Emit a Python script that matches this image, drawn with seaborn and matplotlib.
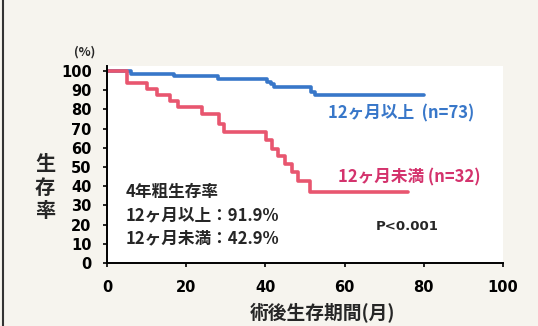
import matplotlib
matplotlib.use("Agg")
import matplotlib.pyplot as plt
from matplotlib.lines import Line2D
import seaborn as sns
import pandas as pd

# Kaplan-Meier survival steps (months, survival %)
long_time = [0, 6, 17, 28, 40.5, 41.3, 42.2, 51.5, 52.5, 80]
long_surv = [100, 98.6, 97.3, 95.9, 94.5, 93.2, 91.8, 89.0, 87.6, 87.6]

short_time = [0, 5, 10, 12.5, 16, 18, 24, 28.3, 29.5, 40.2, 41.6, 43.3, 45.0,
              46.8, 48.3, 51.3, 76]
short_surv = [100, 93.8, 90.6, 87.5, 84.4, 81.3, 77.5, 72.4, 68.0, 64.0, 59.5,
              55.5, 51.5, 47.5, 42.9, 37.1, 37.1]

group_names = ["12ヶ月以上", "12ヶ月未満"]
group_n = [73, 32]
rate_4y = [91.9, 42.9]

x_ticks = [0, 20, 40, 60, 80, 100]
y_ticks = [0, 10, 20, 30, 40, 50, 60, 70, 80, 90, 100]

df = pd.concat([
    pd.DataFrame({"time": long_time, "surv": long_surv, "group": group_names[0]}),
    pd.DataFrame({"time": short_time, "surv": short_surv, "group": group_names[1]}),
], ignore_index=True)

sns.set_theme(style="ticks")
plt.rcParams["font.family"] = ["Noto Sans CJK JP", "DejaVu Sans"]

blue = "#3877c9"
red = "#e8566f"
red_text = "#d4336d"

fig = plt.figure(figsize=(5.38, 3.26), dpi=100)
fig.patch.set_facecolor("#f6f4ee")
ax = fig.add_axes([107 / 538, 1 - 263 / 326, (503 - 107) / 538, (263 - 65.5) / 326])
ax.set_facecolor("white")

sns.lineplot(data=df, x="time", y="surv", hue="group", hue_order=group_names,
             palette=[blue, red], drawstyle="steps-post", estimator=None,
             sort=False, linewidth=2.6, legend=False, ax=ax)

ax.set_xlim(0, 100)
ax.set_ylim(0, 102.9)
ax.set_xticks(x_ticks)
ax.set_yticks(y_ticks)
ax.set_xticklabels([str(v) for v in x_ticks], fontfamily="DejaVu Sans",
                   fontweight="bold", fontsize=10.5)
ax.set_yticklabels([str(v) for v in y_ticks], fontfamily="DejaVu Sans",
                   fontweight="bold", fontsize=10.5)
ax.tick_params(axis="x", length=3, width=1.2, pad=9, colors="black")
ax.tick_params(axis="y", length=3, width=1.2, pad=8, colors="black")
ax.set_xlabel("")
ax.set_ylabel("")
for side in ("top", "right"):
    ax.spines[side].set_visible(False)
for side in ("left", "bottom"):
    ax.spines[side].set_linewidth(1.4)
    ax.spines[side].set_color("black")

# curve labels
ax.text(55.9, 78.1, f"{group_names[0]}  (n={group_n[0]})", color=blue,
        fontsize=12, fontweight="bold", ha="left", va="center")
ax.text(58.4, 44.8, f"{group_names[1]} (n={group_n[1]})", color=red_text,
        fontsize=12, fontweight="bold", ha="left", va="center")

# 4-year crude survival summary
ax.text(4.8, 37, "4年粗生存率", fontsize=12, fontweight="bold", ha="left", va="center")
ax.text(4.8, 25, f"{group_names[0]}：{rate_4y[0]}%", fontsize=12,
        fontweight="bold", ha="left", va="center")
ax.text(4.8, 13, f"{group_names[1]}：{rate_4y[1]}%", fontsize=12,
        fontweight="bold", ha="left", va="center")
ax.text(67.8, 18.8, "P<0.001", fontsize=9.5, fontweight="bold",
        fontfamily="DejaVu Sans", ha="left", va="center")

# axis titles
fig.text(85 / 538, 1 - 52 / 326, "(%)", fontsize=9, fontweight="bold",
         ha="center", va="center")
fig.text(45 / 538, 1 - 187 / 326, "生\n存\n率", fontsize=14.5, fontweight="bold",
         ha="center", va="center", linespacing=1.15)
fig.text(323 / 538, 1 - 313 / 326, "術後生存期間(月)", fontsize=13.5,
         fontweight="bold", ha="center", va="center")

# page edge
fig.add_artist(Line2D([3 / 538, 3 / 538], [0, 1], color="#333333", lw=1.5))

fig.savefig("out.png", dpi=100, facecolor=fig.get_facecolor())
